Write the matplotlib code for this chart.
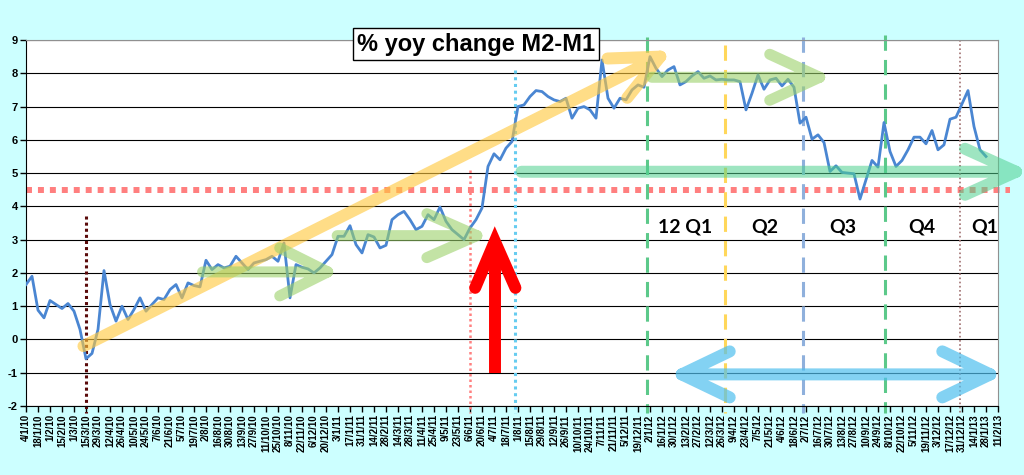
import matplotlib
matplotlib.use('Agg')
import matplotlib.pyplot as plt
import matplotlib.dates as mdates
from matplotlib.path import Path
from matplotlib.patches import PathPatch
from matplotlib.transforms import IdentityTransform
import numpy as np
import pandas as pd

# weekly % yoy change M2-M1, starting 4/1/10
values = [1.65, 1.9, 0.88, 0.65, 1.17, 1.05, 0.93, 1.08, 0.85, 0.3,
          -0.58, -0.42, 0.3, 2.07, 1.05, 0.55, 1.0, 0.6, 0.9, 1.25,
          0.85, 1.05, 1.25, 1.2, 1.5, 1.65, 1.25, 1.7, 1.62, 1.58,
          2.38, 2.1, 2.25, 2.15, 2.2, 2.5, 2.3, 2.1, 2.3, 2.35,
          2.4, 2.5, 2.35, 2.9, 1.25, 2.25, 2.17, 2.12, 2.0, 2.15,
          2.35, 2.55, 3.1, 3.1, 3.42, 2.85, 2.6, 3.15, 3.08, 2.75,
          2.83, 3.6, 3.75, 3.85, 3.6, 3.3, 3.4, 3.75, 3.6, 3.98,
          3.55, 3.3, 3.15, 3.0, 3.35, 3.6, 3.95, 5.2, 5.58, 5.4,
          5.75, 5.95, 7.0, 7.05, 7.3, 7.48, 7.45, 7.3, 7.2, 7.15,
          7.25, 6.65, 6.95, 7.0, 6.9, 6.65, 8.4, 7.25, 6.95, 7.25,
          7.2, 7.5, 7.65, 7.58, 8.5, 8.15, 7.9, 8.1, 8.2, 7.65,
          7.75, 7.92, 8.05, 7.85, 7.92, 7.8, 7.82, 7.8, 7.8, 7.75,
          6.9, 7.4, 7.95, 7.52, 7.8, 7.85, 7.62, 7.82, 7.58, 6.5,
          6.68, 6.02, 6.15, 5.92, 5.05, 5.22, 5.02, 5.0, 4.98, 4.22,
          4.8, 5.38, 5.18, 6.52, 5.65, 5.2, 5.38, 5.7, 6.08, 6.08,
          5.88, 6.28, 5.7, 5.85, 6.62, 6.68, 7.08, 7.48, 6.4, 5.7,
          5.5]
weeks = pd.date_range('2010-01-04', periods=len(values), freq='7D')
tick_dates = pd.date_range('2010-01-04', '2013-02-11', freq='14D')
tick_labels = [f'{t.day}/{t.month}/{t.year % 100}' for t in tick_dates]

quarters = ['12 Q1', 'Q2', 'Q3', 'Q4', 'Q1']
quarter_pos = ['12/2/12', '15/5/12', '14/8/12', '14/11/12', '27/1/13']


def d(s):
    return mdates.date2num(pd.to_datetime(s, dayfirst=True))


fig = plt.figure(figsize=(10.24, 4.75), dpi=100, facecolor='#ccffff')
ax = fig.add_axes([26 / 1024, 1 - 406 / 475, 972 / 1024, 366 / 475])
ax.set_facecolor('white')
ax.set_xlim(d('4/1/10'), d('11/2/13'))
ax.set_ylim(-2, 9)

ax.set_yticks(range(-2, 10))
ax.set_yticklabels([str(v) for v in range(-2, 10)], fontweight='bold', fontsize=8,
                   family='Liberation Sans')
ax.set_xticks([mdates.date2num(t) for t in tick_dates])
ax.set_xticklabels(tick_labels, rotation=90, fontweight='bold', fontsize=7,
                   family='Liberation Sans')
ax.tick_params(direction='out', length=4, width=1, pad=2)
ax.yaxis.grid(True, color='black', lw=0.8)
ax.set_axisbelow(True)
for s in ['top', 'right']:
    ax.spines[s].set_color('#909090')
for s in ['left', 'bottom']:
    ax.spines[s].set_color('black')

ax.plot(mdates.date2num(weeks), values, color='#4a86d2', lw=2.0, zorder=3)

# reference lines
ax.plot([d('4/1/10'), d('25/2/13')], [4.5, 4.5], color='#ff7f7f', lw=4.3,
        ls=(0, (1, 1)), dash_capstyle='butt', clip_on=False, zorder=2)
vlines = [('15/3/10', 3.7, '#5a0a0a', 2.2, (0, (1, 1))),
          ('6/6/11', 5.1, '#ff8080', 1.8, (0, (1, 1.2))),
          ('29/7/11', 8.1, '#66ccf0', 2.2, (0, (1, 1.2))),
          ('29/12/11', 9.1, '#5cc98a', 2.2, (0, (5, 3))),
          ('29/3/12', 8.85, '#ffd75a', 2.2, (0, (5, 3))),
          ('29/6/12', 9.1, '#8fb0dc', 2.2, (0, (5, 3))),
          ('2/10/12', 9.15, '#5cc98a', 2.2, (0, (5, 3))),
          ('29/12/12', 9.0, '#a07070', 1.2, (0, (1, 1.5)))]
for x, top, c, lw, ls in vlines:
    ax.plot([d(x), d(x)], [top, -2.2], color=c, lw=lw, ls=ls,
            dash_capstyle='butt', clip_on=False, zorder=2)


def fat_arrow(start, tip, color, alpha, width_px, head, both=False, z=5):
    p0 = ax.transData.transform((d(start[0]), start[1]))
    p1 = ax.transData.transform((d(tip[0]), tip[1]))
    u = (p1 - p0) / np.hypot(*(p1 - p0))
    n = np.array([-u[1], u[0]])
    hl, hw = head
    verts = [p0, p1, p1 - u * hl + n * hw, p1, p1 - u * hl - n * hw]
    codes = [Path.MOVETO, Path.LINETO, Path.MOVETO, Path.LINETO, Path.LINETO]
    if both:
        verts += [p0 + u * hl + n * hw, p0, p0 + u * hl - n * hw]
        codes += [Path.MOVETO, Path.LINETO, Path.LINETO]
    patch = PathPatch(Path(verts, codes), fill=False, edgecolor=color, alpha=alpha,
                      lw=width_px * 0.72, capstyle='round', joinstyle='round',
                      transform=IdentityTransform(), clip_on=False, zorder=z)
    fig.add_artist(patch)


fat_arrow(('12/3/10', -0.2), ('14/1/12', 8.5), '#ffc83d', 0.62, 12, (48, 22))
fat_arrow(('29/7/10', 2.03), ('22/12/10', 2.03), '#9bd16a', 0.6, 11, (48, 24))
fat_arrow(('2/1/11', 3.12), ('14/6/11', 3.12), '#9bd16a', 0.6, 11, (50, 22))
fat_arrow(('4/1/12', 7.88), ('18/7/12', 7.88), '#9bd16a', 0.6, 11, (50, 23))
fat_arrow(('5/8/11', 5.04), ('4/3/13', 5.04), '#4fd08e', 0.55, 12, (51, 23))
fat_arrow(('8/2/12', -1.05), ('2/2/13', -1.05), '#4fbfee', 0.7, 12, (48, 23), both=True)

# red up arrow
ax.plot([d('5/7/11'), d('5/7/11')], [-1.0, 2.85], color='red', lw=8.6,
        solid_capstyle='butt', zorder=6)
ax.plot([d('12/6/11'), d('5/7/11'), d('29/7/11')], [1.55, 2.95, 1.55], color='red',
        lw=8.6, solid_capstyle='round', solid_joinstyle='miter', zorder=6)

for q, x in zip(quarters, quarter_pos):
    ax.text(d(x), 3.38, q, ha='center', va='center', fontsize=14,
            fontweight='bold', family='Lato', zorder=7)

fig.text(0.465, 0.907, '% yoy change M2-M1', ha='center', va='center',
         fontsize=17, fontweight='bold', family='Liberation Sans', zorder=10,
         bbox=dict(facecolor='white', edgecolor='black', lw=1, pad=3))

fig.savefig('out.png', dpi=100, facecolor=fig.get_facecolor())
